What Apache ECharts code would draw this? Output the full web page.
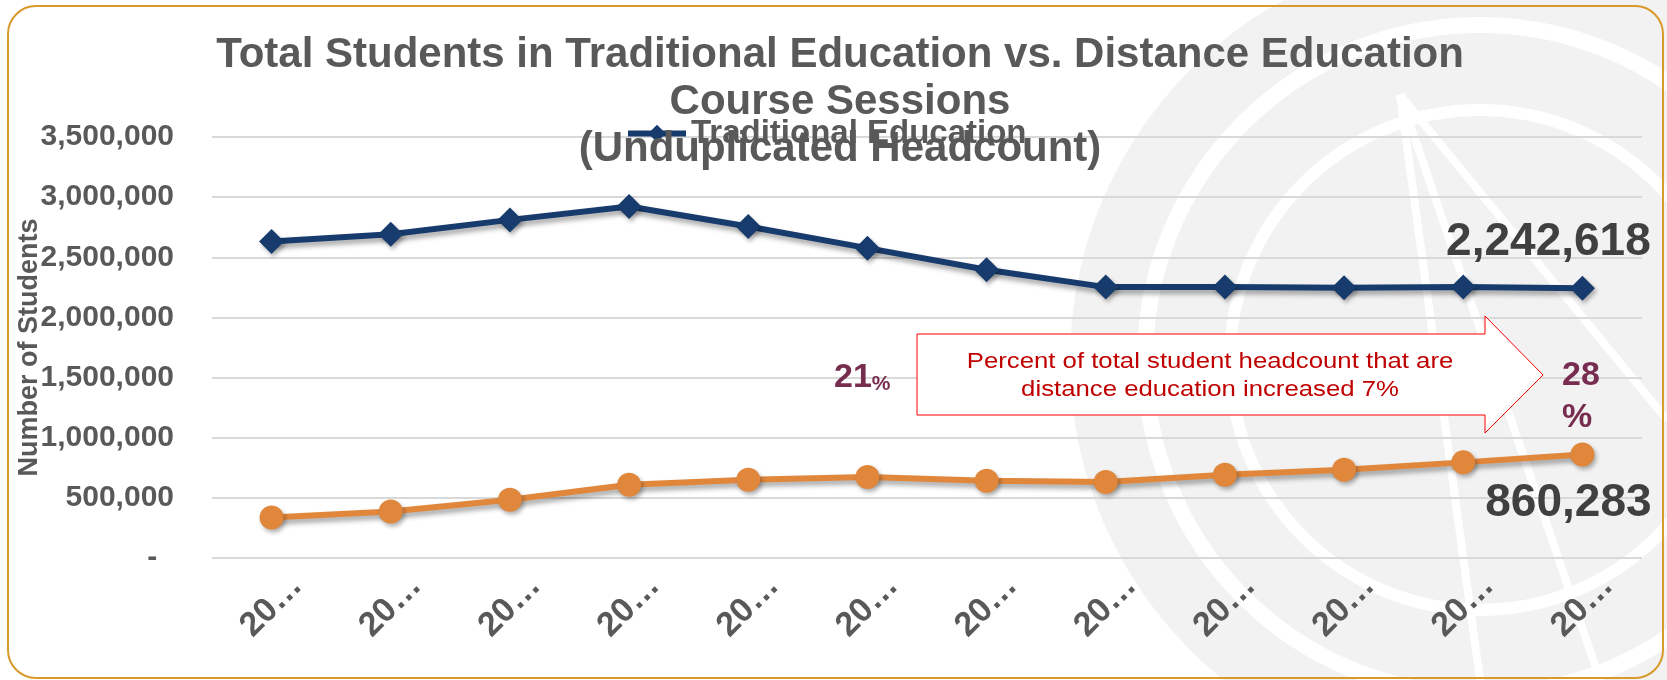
<!DOCTYPE html>
<html>
<head>
<meta charset="utf-8">
<title>Traditional vs Distance Education</title>
<script src="https://cdn.jsdelivr.net/npm/echarts@6/dist/echarts.min.js"></script>
<style>
  html, body { margin: 0; padding: 0; background: #fff; }
  #chart { width: 1667px; height: 680px; }
</style>
</head>
<body>
<div id="chart"></div>
<script>
// academic years (axis shows them truncated, as in the original slide)
var years = ['2006-07', '2007-08', '2008-09', '2009-10', '2010-11', '2011-12',
             '2012-13', '2013-14', '2014-15', '2015-16', '2016-17', '2017-18'];
var traditional = [2631000, 2692000, 2811000, 2922000, 2756000, 2576000,
                   2396000, 2252000, 2252000, 2246000, 2252000, 2242618];
var distance = [337000, 387000, 484000, 609000, 651000, 673000,
                642000, 631000, 692000, 734000, 795000, 860283];
var yTicks = [0, 500000, 1000000, 1500000, 2000000, 2500000, 3000000, 3500000];
var pctStart = '21';
var pctEnd = '28';

var FONT = '"Liberation Sans", Arial, sans-serif';
var GRAY = '#595959';

function fmt(v) {
    return v.toLocaleString('en-US');
}

// put the big value label only on the last point
function withLastLabel(arr, pos, offset, dist) {
    return arr.map(function (v, i) {
        if (i !== arr.length - 1) return v;
        return {
            value: v,
            label: {
                show: true, position: pos, offset: offset, distance: dist,
                formatter: function (p) { return fmt(p.value); },
                fontSize: 46, fontWeight: 'bold', color: '#404040', fontFamily: FONT
            }
        };
    });
}

var chart = echarts.init(document.getElementById('chart'));

var option = {
    backgroundColor: '#fff',
    textStyle: { fontFamily: FONT },
    animation: false,
    title: {
        text: 'Total Students in Traditional Education vs. Distance Education\nCourse Sessions\n(Unduplicated Headcount)',
        left: 835,
        textAlign: 'center',
        top: 27,
        z: 10,
        textStyle: { fontSize: 42, lineHeight: 47, fontWeight: 'bold', color: GRAY, fontFamily: FONT }
    },
    legend: {
        data: ['Traditional Education'],
        left: 620,
        top: 112,
        itemWidth: 58,
        itemHeight: 22,
        lineStyle: { width: 6 },
        textStyle: { fontSize: 33, fontWeight: 'bold', color: GRAY, fontFamily: FONT }
    },
    grid: { left: 212, right: 25, top: 137, bottom: 122, containLabel: false, outerBoundsMode: 'none' },
    xAxis: {
        type: 'category',
        data: years,
        boundaryGap: true,
        axisLine: { show: false },
        axisTick: { show: false },
        axisLabel: {
            rotate: 45,
            align: 'center',
            verticalAlign: 'middle',
            margin: 48,
            interval: 0,
            fontSize: 34,
            fontWeight: 'bold',
            color: GRAY,
            formatter: function (v) { return v.slice(0, 2) + '\u2026'; }
        }
    },
    yAxis: {
        type: 'value',
        min: yTicks[0],
        max: yTicks[yTicks.length - 1],
        interval: yTicks[1] - yTicks[0],
        name: 'Number of Students',
        nameLocation: 'middle',
        nameRotate: 90,
        nameGap: 169,
        nameMoveOverlap: false,
        nameTextStyle: { fontSize: 27, fontWeight: 'bold', color: GRAY, fontFamily: FONT },
        axisLine: { show: false },
        axisTick: { show: false },
        splitLine: { lineStyle: { color: '#D9D9D9', width: 2 } },
        axisLabel: {
            margin: 38,
            fontSize: 30,
            fontWeight: 'bold',
            color: GRAY,
            formatter: function (v) { return v === 0 ? '-  ' : fmt(v); }
        }
    },
    series: [
        {
            name: 'Traditional Education',
            type: 'line',
            data: withLastLabel(traditional, 'top', [-34, 0], 10),
            symbol: 'diamond',
            symbolSize: [25, 25],
            z: 5,
            lineStyle: { color: '#173B6C', width: 6, shadowColor: 'rgba(0,0,0,0.35)', shadowBlur: 5, shadowOffsetX: 2, shadowOffsetY: 4 },
            itemStyle: { color: '#173B6C', shadowColor: 'rgba(0,0,0,0.3)', shadowBlur: 4, shadowOffsetX: 2, shadowOffsetY: 3 }
        },
        {
            name: 'Distance Education',
            type: 'line',
            data: withLastLabel(distance, 'bottom', [-14, 0], 14),
            symbol: 'circle',
            symbolSize: 24,
            z: 5,
            lineStyle: { color: '#E0873C', width: 6, shadowColor: 'rgba(0,0,0,0.35)', shadowBlur: 5, shadowOffsetX: 2, shadowOffsetY: 4 },
            itemStyle: { color: '#E0873C', shadowColor: 'rgba(0,0,0,0.3)', shadowBlur: 4, shadowOffsetX: 2, shadowOffsetY: 3 }
        }
    ],
    graphic: [
        // faint watermark on the right side of the slide
        { type: 'circle', z: -10, silent: true, shape: { cx: 1480, cy: 360, r: 410 }, style: { fill: '#F1F2F1' } },
        { type: 'circle', z: -9, silent: true, shape: { cx: 1480, cy: 360, r: 335 }, style: { fill: 'none', stroke: '#fff', lineWidth: 16 } },
        { type: 'circle', z: -9, silent: true, shape: { cx: 1480, cy: 360, r: 250 }, style: { fill: 'none', stroke: '#fff', lineWidth: 12 } },
        { type: 'line', z: -9, silent: true, shape: { x1: 1400, y1: 95, x2: 1480, y2: 680 }, style: { stroke: '#fff', lineWidth: 8 } },
        { type: 'line', z: -9, silent: true, shape: { x1: 1400, y1: 95, x2: 1600, y2: 680 }, style: { stroke: '#fff', lineWidth: 8 } },
        { type: 'line', z: -9, silent: true, shape: { x1: 1400, y1: 95, x2: 1667, y2: 420 }, style: { stroke: '#fff', lineWidth: 8 } },
        // rounded frame
        { type: 'rect', z: 20, silent: true, shape: { x: 8, y: 6, width: 1655, height: 672, r: 28 }, style: { fill: 'none', stroke: '#D99A2B', lineWidth: 2 } },
        // arrow callout
        {
            type: 'polygon', z: 8, silent: true,
            shape: { points: [[917, 334], [1485, 334], [1485, 316], [1543, 375], [1485, 433], [1485, 415], [917, 415]] },
            style: { fill: '#fff', stroke: '#FF0000', lineWidth: 1 }
        },
        {
            type: 'text', z: 9, silent: true, x: 1210, y: 376, scaleX: 1.17,
            style: {
                text: 'Percent of total student headcount that are\ndistance education increased 7%',
                align: 'center', verticalAlign: 'middle',
                font: '22px ' + FONT, lineHeight: 28, fill: '#C00000'
            }
        },
        {
            type: 'text', z: 9, silent: true, x: 834, y: 378,
            style: {
                text: '{a|' + pctStart + '}{b|%}',
                verticalAlign: 'middle',
                rich: {
                    a: { fontSize: 34, fontWeight: 'bold', fill: '#772D4F', fontFamily: FONT },
                    b: { fontSize: 21, fontWeight: 'bold', fill: '#772D4F', fontFamily: FONT, verticalAlign: 'bottom' }
                }
            }
        },
        {
            type: 'text', z: 9, silent: true, x: 1562, y: 397,
            style: {
                text: pctEnd + '\n%',
                verticalAlign: 'middle',
                font: 'bold 34px ' + FONT, lineHeight: 42, fill: '#772D4F'
            }
        }
    ]
};

chart.setOption(option);
</script>
</body>
</html>
